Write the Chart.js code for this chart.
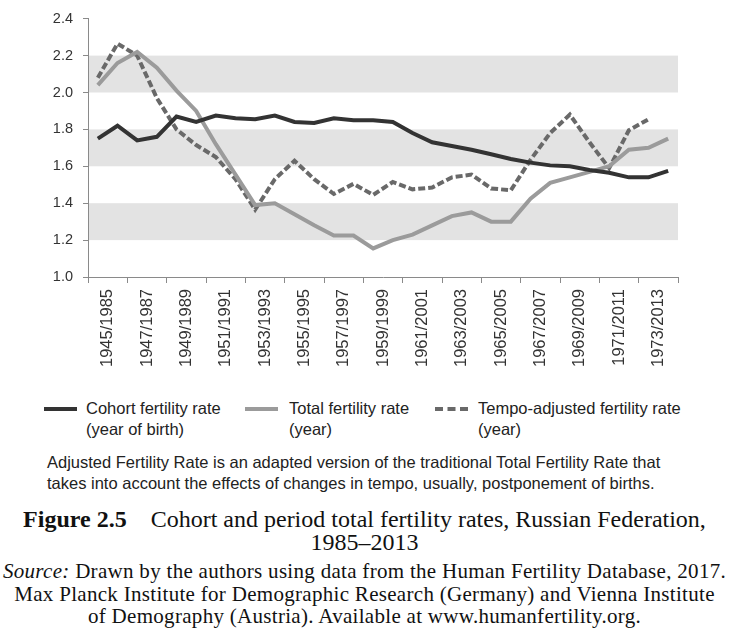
<!DOCTYPE html>
<html>
<head>
<meta charset="utf-8">
<script src="https://cdn.jsdelivr.net/npm/chart.js@4"></script>
<style>
  html, body { margin: 0; padding: 0; background: #fff; }
  body { width: 729px; height: 637px; position: relative; overflow: hidden; }
  #chartBox { position: absolute; left: 0; top: 0; width: 729px; height: 385px; }
  .legend { position: absolute; top: 398px; left: 0; width: 729px; height: 48px;
            font-family: "Liberation Sans", Arial, sans-serif; font-size: 16.5px; color: #222; line-height: 21px; }
  .legend .swatch { position: absolute; top: 9px; width: 33px; height: 0; }
  .legend .txt { position: absolute; top: 0; white-space: nowrap; }
  .note { position: absolute; left: 47px; top: 452px; font-family: "Liberation Sans", Arial, sans-serif;
          font-size: 16.5px; line-height: 21px; color: #222; white-space: nowrap; }
  .caption { position: absolute; left: 0; top: 508px; width: 729px; text-align: center;
             font-family: "Liberation Serif", "Times New Roman", serif; font-size: 24px; line-height: 23px; color: #111; }
  .caption b { margin-right: 18px; }
  .source { position: absolute; left: 0; top: 560px; width: 729px; text-align: center;
            font-family: "Liberation Serif", "Times New Roman", serif; font-size: 21px; letter-spacing: 0.3px;
            line-height: 22.5px; color: #111; white-space: nowrap; }
</style>
</head>
<body>
<div id="chartBox"><canvas id="c"></canvas></div>
<div class="legend" id="legend"></div>
<div class="note">Adjusted Fertility Rate is an adapted version of the traditional Total Fertility Rate that<br>takes into account the effects of changes in tempo, usually, postponement of births.</div>
<div class="caption"><b>Figure 2.5</b> Cohort and period total fertility rates, Russian Federation,<br>1985–2013</div>
<div class="source"><i>Source:</i> Drawn by the authors using data from the Human Fertility Database, 2017.<br>Max Planck Institute for Demographic Research (Germany) and Vienna Institute<br>of Demography (Austria). Available at www.humanfertility.org.</div>
<script>
// ---- data ----
const xLabels = ["1945/1985","1947/1987","1949/1989","1951/1991","1953/1993","1955/1995","1957/1997",
                 "1959/1999","1961/2001","1963/2003","1965/2005","1967/2007","1969/2009","1971/2011","1973/2013"];
// one value per year, 1985..2014 (cohorts 1945..1974)
const cohortRate = [1.75,1.82,1.74,1.76,1.87,1.84,1.875,1.86,1.855,1.875,1.84,1.835,1.86,1.85,
                    1.85,1.84,1.78,1.73,1.71,1.69,1.665,1.64,1.62,1.605,1.60,1.58,1.565,1.54,1.54,1.575];
const totalRate  = [2.04,2.16,2.22,2.135,2.01,1.90,1.72,1.555,1.39,1.40,1.34,1.28,1.225,1.225,
                    1.155,1.20,1.23,1.28,1.33,1.35,1.30,1.30,1.425,1.51,1.54,1.57,1.60,1.69,1.70,1.75];
const tempoRate  = [2.08,2.265,2.20,1.97,1.80,1.715,1.65,1.53,1.365,1.53,1.63,1.53,1.45,1.505,
                    1.445,1.515,1.475,1.485,1.54,1.555,1.48,1.47,1.635,1.78,1.88,1.73,1.59,1.795,1.855,null];
const seriesNames = [["Cohort fertility rate","(year of birth)"],["Total fertility rate","(year)"],["Tempo-adjusted fertility rate","(year)"]];
const yTicks = [1.0,1.2,1.4,1.6,1.8,2.0,2.2,2.4];
const bands = [[1.2,1.4],[1.6,1.8],[2.0,2.2]];

const toXY = arr => arr.map((v,i) => ({x:i, y:v}));
// tick positions: boundaries at -0.5,1.5,...  label positions at 0.5,2.5,...
const xTickValues = [];
for (let k = 0; k <= 30; k++) xTickValues.push(-0.5 + k);

const colors = ['#333333','#9b9b9b','#696969'];

const bandPlugin = {
  id: 'bands',
  beforeDatasetsDraw(chart) {
    const {ctx, chartArea, scales} = chart;
    ctx.save();
    ctx.fillStyle = '#e3e3e3';
    bands.forEach(([a,b]) => {
      const y1 = scales.y.getPixelForValue(b), y2 = scales.y.getPixelForValue(a);
      ctx.fillRect(chartArea.left + 1, y1, chartArea.right - chartArea.left - 1, y2 - y1);
    });
    ctx.restore();
  }
};

new Chart(document.getElementById('c'), {
  type: 'line',
  data: {
    datasets: [
      {label: seriesNames[0][0], data: toXY(cohortRate), borderColor: colors[0], borderWidth: 4, pointRadius: 0, tension: 0},
      {label: seriesNames[1][0], data: toXY(totalRate), borderColor: colors[1], borderWidth: 4, pointRadius: 0, tension: 0},
      {label: seriesNames[2][0], data: toXY(tempoRate), borderColor: colors[2], borderWidth: 4, pointRadius: 0, tension: 0, borderDash: [7,3]}
    ]
  },
  options: {
    responsive: true, maintainAspectRatio: false, animation: false,
    layout: { padding: { top: 11, right: 51, left: 0, bottom: 0 } },
    plugins: { legend: { display: false }, tooltip: { enabled: false } },
    scales: {
      x: {
        type: 'linear', min: -0.5, max: 29.5,
        afterBuildTicks: s => { s.ticks = xTickValues.map(v => ({value: v})); },
        afterFit: s => { s.height = 385 - 277; },
        border: { display: true, color: '#8a8a8a', width: 1 },
        grid: { drawOnChartArea: false, drawTicks: true, tickLength: 6,
                tickColor: c => (c.index % 2 === 0 ? '#8a8a8a' : 'rgba(0,0,0,0)') },
        ticks: {
          autoSkip: false, minRotation: 90, maxRotation: 90, padding: 6,
          color: '#333', font: { family: 'Liberation Sans', size: 16.5 },
          callback: (v, i) => (i % 2 === 1 ? xLabels[(i - 1) / 2] : '')
        }
      },
      y: {
        min: 1.0, max: 2.4,
        afterBuildTicks: s => { s.ticks = yTicks.map(v => ({value: v})); },
        afterFit: s => { s.width = 88; },
        border: { display: true, color: '#8a8a8a', width: 1 },
        grid: { drawOnChartArea: false, drawTicks: true, tickLength: 5, tickColor: '#8a8a8a' },
        ticks: { color: '#333', padding: 10, font: { family: 'Liberation Sans', size: 14.5 },
                 callback: v => Number(v).toFixed(1) }
      }
    }
  },
  plugins: [bandPlugin]
});

// HTML legend (two-line labels)
const legendPos = [{line: 44, text: 86}, {line: 245, text: 289}, {line: 435, text: 478}];
const lg = document.getElementById('legend');
seriesNames.forEach((nm, i) => {
  const sw = document.createElement('div');
  sw.className = 'swatch';
  sw.style.left = legendPos[i].line + 'px';
  sw.style.borderTop = i === 2 ? `4px dashed ${colors[2]}` : `4px solid ${colors[i]}`;
  lg.appendChild(sw);
  const t = document.createElement('div');
  t.className = 'txt';
  t.style.left = legendPos[i].text + 'px';
  t.innerHTML = nm[0] + '<br>' + nm[1];
  lg.appendChild(t);
});
</script>
</body>
</html>
